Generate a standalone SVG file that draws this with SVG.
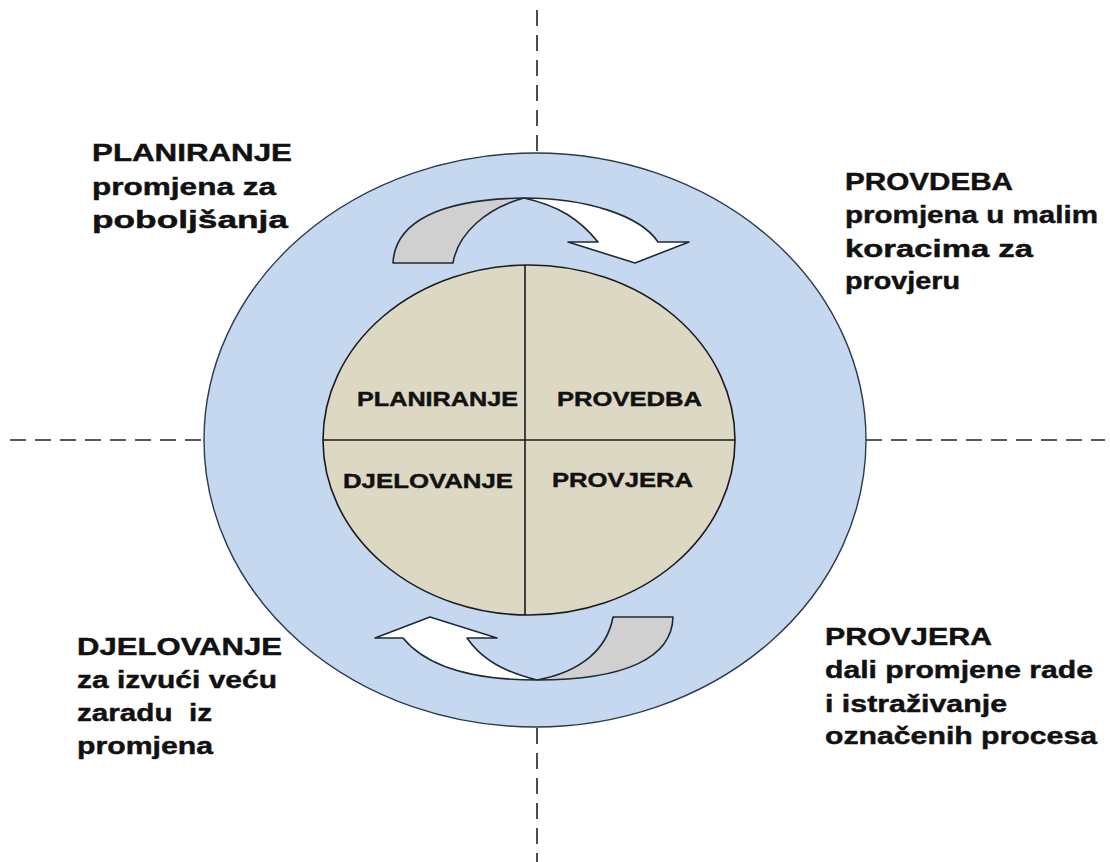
<svg xmlns="http://www.w3.org/2000/svg" width="1110" height="862" viewBox="0 0 1110 862">
<style>
.dash{stroke:#222;stroke-width:1.6;stroke-dasharray:16 9;fill:none}
.lbl{font-family:"Liberation Sans",Arial,sans-serif;font-weight:bold;fill:#111;stroke:#111;stroke-width:0.45}
.big{font-size:24.5px}
.mid{font-size:20.5px}
.arw{stroke:#1e2a36;stroke-width:1.6;stroke-linejoin:round}
</style>
<rect width="1110" height="862" fill="#ffffff"/>
<g id="axes">
<line class="dash" x1="537" y1="10" x2="537" y2="153"/>
<line class="dash" x1="537" y1="728" x2="537" y2="862"/>
<line class="dash" x1="10" y1="440" x2="204" y2="440"/>
<line class="dash" x1="866" y1="440" x2="1105" y2="440"/>
</g>
<g id="outer-ring">
<ellipse cx="535" cy="440" rx="331" ry="287" fill="#c6d8ef" stroke="#2b3a4c" stroke-width="1.4"/>
</g>
<g id="inner-circle">
<ellipse cx="529" cy="440" rx="206" ry="175" fill="#ddd8c4" stroke="#1a1a1a" stroke-width="1.6"/>
<line x1="525" y1="265" x2="525" y2="615" stroke="#1a1a1a" stroke-width="1.6"/>
<line x1="323" y1="440" x2="735" y2="440" stroke="#1a1a1a" stroke-width="1.6"/>
</g>
<g id="connectors">
<path class="arw" fill="#d0d0d0" d="M393,263 C395,222 440,199 524,198 C487,208 458,233 453,263 Z"/>
<path class="arw" fill="#ffffff" d="M524,198 C585,198 640,215 658,242 L689,242 L635,263 L568,242 L598,242 C580,220 560,206 524,198 Z"/>
<path class="arw" fill="#d0d0d0" d="M673,617 C672,658 625,680 537,680 C580,672 607,650 613,617 Z"/>
<path class="arw" fill="#ffffff" d="M537,680 C470,680 425,665 403,638 L375,638 L430,617 L497,638 L467,638 C482,660 505,672 537,680 Z"/>
</g>
<g id="node-planiranje-in"><text class="lbl mid" x="357" y="406" textLength="161" lengthAdjust="spacingAndGlyphs">PLANIRANJE</text></g>
<g id="node-provedba-in"><text class="lbl mid" x="557" y="406" textLength="145" lengthAdjust="spacingAndGlyphs">PROVEDBA</text></g>
<g id="node-djelovanje-in"><text class="lbl mid" x="343" y="488" textLength="170" lengthAdjust="spacingAndGlyphs">DJELOVANJE</text></g>
<g id="node-provjera-in"><text class="lbl mid" x="552" y="487" textLength="141" lengthAdjust="spacingAndGlyphs">PROVJERA</text></g>
<g id="node-planiranje">
<text class="lbl big" x="92" y="161" textLength="200" lengthAdjust="spacingAndGlyphs">PLANIRANJE</text>
<text class="lbl big" x="92" y="195" textLength="184" lengthAdjust="spacingAndGlyphs">promjena za</text>
<text class="lbl big" x="92" y="228" textLength="196" lengthAdjust="spacingAndGlyphs">poboljšanja</text>
</g>
<g id="node-provdeba">
<text class="lbl big" x="845" y="190" textLength="168" lengthAdjust="spacingAndGlyphs">PROVDEBA</text>
<text class="lbl big" x="845" y="223" textLength="253" lengthAdjust="spacingAndGlyphs">promjena u malim</text>
<text class="lbl big" x="845" y="257" textLength="188" lengthAdjust="spacingAndGlyphs">koracima za</text>
<text class="lbl big" x="845" y="289" textLength="115" lengthAdjust="spacingAndGlyphs">provjeru</text>
</g>
<g id="node-djelovanje">
<text class="lbl big" x="77" y="655" textLength="205" lengthAdjust="spacingAndGlyphs">DJELOVANJE</text>
<text class="lbl big" x="77" y="688" textLength="200" lengthAdjust="spacingAndGlyphs">za izvući veću</text>
<text class="lbl big" x="77" y="721" textLength="135" lengthAdjust="spacingAndGlyphs" xml:space="preserve">zaradu  iz</text>
<text class="lbl big" x="77" y="754" textLength="136" lengthAdjust="spacingAndGlyphs">promjena</text>
</g>
<g id="node-provjera">
<text class="lbl big" x="825" y="645" textLength="167" lengthAdjust="spacingAndGlyphs">PROVJERA</text>
<text class="lbl big" x="825" y="678" textLength="268" lengthAdjust="spacingAndGlyphs">dali promjene rade</text>
<text class="lbl big" x="825" y="712" textLength="182" lengthAdjust="spacingAndGlyphs">i istraživanje</text>
<text class="lbl big" x="825" y="744" textLength="272" lengthAdjust="spacingAndGlyphs">označenih procesa</text>
</g>
</svg>
